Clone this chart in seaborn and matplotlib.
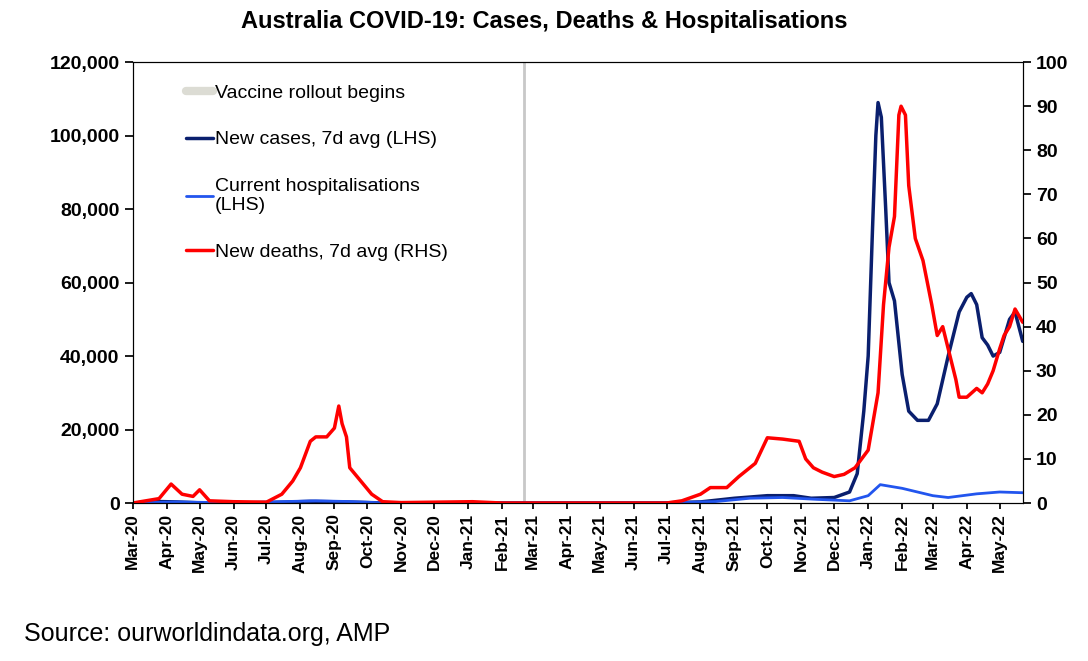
import matplotlib
matplotlib.use("Agg")
import matplotlib.pyplot as plt
import seaborn as sns
import pandas as pd

sns.set_theme(style="white")
plt.rcParams['font.family'] = ['Liberation Sans', 'DejaVu Sans']
plt.rcParams['text.color'] = 'black'
plt.rcParams['xtick.color'] = 'black'
plt.rcParams['ytick.color'] = 'black'

cases_dates = ["2020-03-01","2020-03-25","2020-04-10","2020-05-01","2020-07-01","2020-08-10","2020-09-10","2020-10-15",
 "2021-07-01","2021-08-01","2021-09-01","2021-10-01","2021-10-25","2021-11-10","2021-12-01","2021-12-15","2021-12-22",
 "2021-12-28","2022-01-01","2022-01-05","2022-01-08","2022-01-10","2022-01-13","2022-01-17","2022-01-20","2022-01-25",
 "2022-02-01","2022-02-07","2022-02-15","2022-02-25","2022-03-05","2022-03-15","2022-03-25","2022-04-01","2022-04-05",
 "2022-04-10","2022-04-15","2022-04-20","2022-04-25","2022-05-01","2022-05-10","2022-05-15","2022-05-22"]
cases = [0,400,300,50,100,450,300,20,50,300,1300,2000,2000,1300,1500,3000,8000,25000,40000,75000,100000,109000,
 105000,80000,60000,55000,35000,25000,22500,22500,27000,40000,52000,56000,57000,54000,45000,43000,40000,41000,50000,52000,44000]

hosp_dates = ["2020-03-01","2020-04-10","2020-06-01","2020-08-15","2020-09-15","2020-10-15","2021-07-01","2021-08-15",
 "2021-09-15","2021-10-15","2021-11-15","2021-12-15","2022-01-01","2022-01-12","2022-02-01","2022-03-01","2022-03-15",
 "2022-04-10","2022-05-01","2022-05-22"]
hosp = [0,300,50,600,400,50,50,400,1300,1500,1000,600,2000,5000,4000,2000,1500,2500,3000,2800]

death_dates = ["2020-03-01","2020-03-25","2020-04-05","2020-04-15","2020-04-25","2020-05-01","2020-05-10","2020-06-01",
 "2020-07-01","2020-07-15","2020-07-25","2020-08-01","2020-08-10","2020-08-15","2020-08-25","2020-09-01","2020-09-05",
 "2020-09-08","2020-09-12","2020-09-15","2020-09-25","2020-10-05","2020-10-15","2020-11-01","2021-01-05","2021-02-01",
 "2021-07-01","2021-07-15","2021-08-01","2021-08-10","2021-08-25","2021-09-05","2021-09-20","2021-10-01","2021-10-15",
 "2021-10-30","2021-11-05","2021-11-12","2021-11-20","2021-12-01","2021-12-10","2021-12-20","2022-01-01","2022-01-10",
 "2022-01-15","2022-01-20","2022-01-25","2022-01-29","2022-01-31","2022-02-04","2022-02-07","2022-02-13","2022-02-20",
 "2022-02-28","2022-03-05","2022-03-10","2022-03-15","2022-03-22","2022-03-25","2022-04-01","2022-04-10","2022-04-15",
 "2022-04-20","2022-04-25","2022-05-01","2022-05-05","2022-05-10","2022-05-15","2022-05-22"]
deaths = [0,1,4.3,2,1.5,3,0.5,0.3,0.2,2,5,8,14,15,15,17,22,18,15,8,5,2,0.3,0.1,0.3,0,0,0.5,2,3.5,3.5,6,9,14.8,14.5,
 14,10,8,7,6,6.5,8,12,25,45,58,65,88,90,88,72,60,55,45,38,40,35,28,24,24,26,25,27,30,35,38,40,44,41]

vaccine_date = "2021-02-21"
tick_months = pd.date_range("2020-03-01", "2022-05-01", freq="MS")

fig, ax = plt.subplots(figsize=(10.88, 6.61), dpi=100)
fig.subplots_adjust(left=0.122, right=0.94, top=0.906, bottom=0.239)
ax2 = ax.twinx()

ax.axvline(pd.Timestamp(vaccine_date), color="#c8c8c8", lw=2, label="Vaccine rollout begins")
sns.lineplot(x=pd.to_datetime(cases_dates), y=cases, ax=ax, color="#0a1f6e", lw=2.5, label="New cases, 7d avg (LHS)")
sns.lineplot(x=pd.to_datetime(hosp_dates), y=hosp, ax=ax, color="#2255ee", lw=2, label="Current hospitalisations\n(LHS)")
sns.lineplot(x=pd.to_datetime(death_dates), y=deaths, ax=ax2, color="#ff0000", lw=2.5, label="New deaths, 7d avg (RHS)")

ax.set_ylim(0, 120000); ax2.set_ylim(0, 100)
ax.set_xlim(pd.Timestamp("2020-03-01"), pd.Timestamp("2022-05-22"))
ax.set_yticks(range(0, 120001, 20000))
ax.set_yticklabels([f"{v:,}" for v in range(0, 120001, 20000)], fontsize=14, fontweight="bold")
ax2.set_yticks(range(0, 101, 10))
ax2.set_yticklabels([str(v) for v in range(0, 101, 10)], fontsize=14, fontweight="bold")
ax.set_xticks(tick_months)
ax.set_xticklabels([d.strftime("%b-%y") for d in tick_months], rotation=90, fontsize=12.5, fontweight="bold")
ax.tick_params(axis="x", length=4, bottom=True, direction="out")
ax.set_xlabel(""); ax.set_ylabel(""); ax2.set_ylabel("")
for a in (ax, ax2):
    for s in a.spines.values():
        s.set_color("black"); s.set_linewidth(0.8)

h1, l1 = ax.get_legend_handles_labels()
h2, l2 = ax2.get_legend_handles_labels()
if ax2.get_legend(): ax2.get_legend().remove()
h1[0] = plt.Line2D([], [], color="#dcdcd4", lw=6)
ax.legend(h1 + h2, l1 + l2, loc="upper left", bbox_to_anchor=(0.04, 0.99), frameon=False,
          fontsize=14, handlelength=1.4, handletextpad=0.1, labelspacing=1.5)

fig.suptitle("Australia COVID-19: Cases, Deaths & Hospitalisations", fontsize=17, fontweight="bold", y=0.985)
fig.text(0.022, 0.03, "Source: ourworldindata.org, AMP", fontsize=18)
fig.savefig("out.png", dpi=100)
